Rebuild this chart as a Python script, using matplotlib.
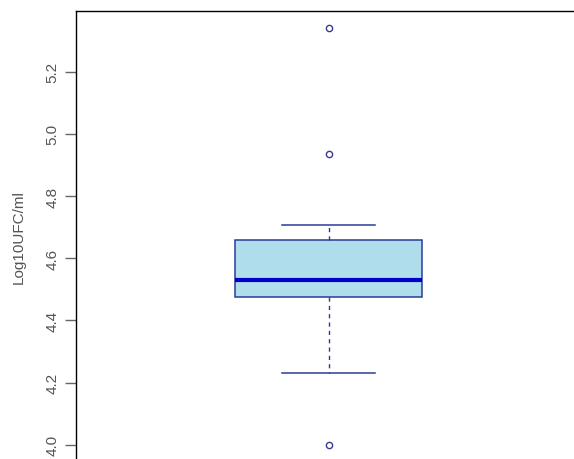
import matplotlib.pyplot as plt

# Estatísticas do boxplot
q1 = 4.476
mediana = 4.531
q3 = 4.657
bigode_inf = 4.230
bigode_sup = 4.707
outliers = [5.339, 4.934, 4.000]
yticks = [4.0, 4.2, 4.4, 4.6, 4.8, 5.0, 5.2]

plt.rcParams['font.family'] = ['Liberation Sans', 'DejaVu Sans']

fig = plt.figure(figsize=(5.74, 4.60), dpi=100)
ax = fig.add_axes([76 / 574, -2.5 / 460, 505 / 574, 450.2 / 460])

stats = [{
    'med': mediana, 'q1': q1, 'q3': q3,
    'whislo': bigode_inf, 'whishi': bigode_sup,
    'fliers': outliers,
}]
ax.bxp(stats, positions=[1], widths=0.37, patch_artist=True,
       boxprops=dict(facecolor='#b0ddec', edgecolor='#2b3a99', linewidth=1.1),
       medianprops=dict(color='#0000c8', linewidth=3),
       whiskerprops=dict(color='#2b3a99', linestyle=(0, (3, 3)), linewidth=1),
       capprops=dict(color='#2b3a99', linewidth=1.1),
       capwidths=0.185,
       flierprops=dict(marker='o', markersize=4.5, markerfacecolor='none',
                       markeredgecolor='#3a3a8c', markeredgewidth=1))

ax.set_xlim(0.5, 1.5)
ax.set_ylim(3.946, 5.394)
ax.set_xticks([])
ax.set_yticks(yticks)
ax.set_yticklabels([f'{v:.1f}' for v in yticks], rotation=90, va='center',
                   color='#555555', fontsize=11)
ax.tick_params(axis='y', length=8, width=1, color='#666666', pad=4)
for s in ax.spines.values():
    s.set_color('black')
    s.set_linewidth(1)
ax.set_ylabel('Log10UFC/ml', color='#555555', fontsize=11, labelpad=14)

fig.savefig('out.png', dpi=100)
